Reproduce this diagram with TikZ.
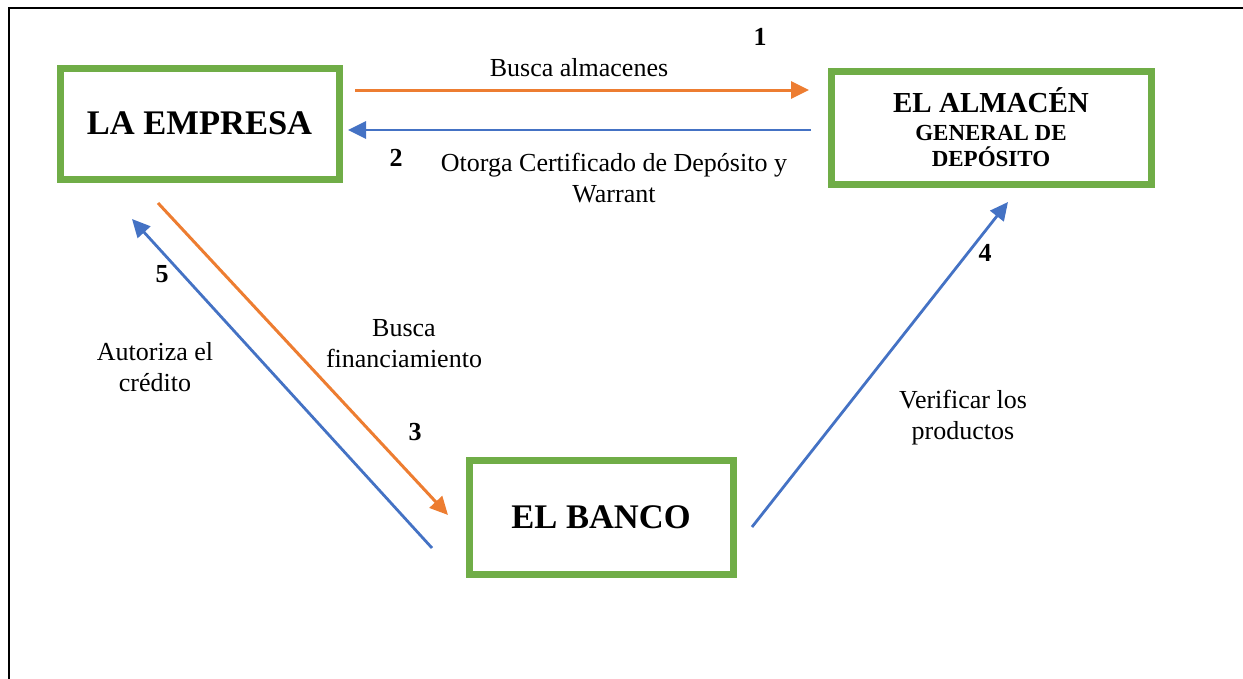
\documentclass[tikz,border=0pt]{standalone}
\usepackage{fontspec}
\setmainfont{Liberation Serif}
\usetikzlibrary{arrows.meta}
\definecolor{wgreen}{HTML}{70AD47}
\definecolor{worange}{HTML}{ED7D31}
\definecolor{wblue}{HTML}{4472C4}
\begin{document}
\begin{tikzpicture}[x=1pt,y=-1pt,
  box/.style={draw=wgreen, line width=7pt, inner sep=0pt, align=center,
    font=\bfseries\fontsize{34.5}{40}\selectfont},
  lbl/.style={font=\fontsize{26}{31}\selectfont, align=center, inner sep=0pt},
  num/.style={font=\bfseries\fontsize{26}{30}\selectfont, inner sep=0pt},
  oarrow/.style={draw=worange, line width=3pt, -{Triangle[length=18pt,width=17pt]}},
  barrow/.style={draw=wblue, line width=2.8pt, -{Triangle[length=18pt,width=17pt]}}]
\useasboundingbox (0,0) rectangle (1243,678);
\draw[line width=2.8pt] (1243,8) -- (9,8) -- (9,690);
% boxes
\node[box, minimum width=279pt, minimum height=111pt] (emp) at (199.5,123.5) {LA EMPRESA};
\node[box, minimum width=320pt, minimum height=113pt,
  font=\bfseries\fontsize{23}{26}\selectfont] (alm) at (991,127.5)
  {{\fontsize{29}{30}\selectfont EL ALMACÉN}\\[2pt]GENERAL DE\\DEPÓSITO};
\node[box, minimum width=264pt, minimum height=114pt] (ban) at (601,517) {EL BANCO};
% arrow end points
\coordinate (a1s) at (355,90);  \coordinate (a1e) at (809,90);
\coordinate (a2s) at (811,130); \coordinate (a2e) at (348,130);
\coordinate (a3s) at (158,203); \coordinate (a3e) at (448,515);
\coordinate (a5s) at (432,548); \coordinate (a5e) at (132,219);
\coordinate (a4s) at (752,527); \coordinate (a4e) at (1008,202);
\draw[oarrow] (a1s) -- (a1e);
\draw[barrow] (a2s) -- (a2e);
\draw[oarrow] (a3s) -- (a3e);
\draw[barrow] (a5s) -- (a5e);
\draw[barrow] (a4s) -- (a4e);
% labels
\node[num] (n1) at (760,37) {1};
\node[lbl] (l1) at (579,68) {Busca almacenes};
\node[num] (n2) at (396,158) {2};
\node[lbl] (l2) at (614,178) {Otorga Certificado de Depósito y\\Warrant};
\node[num] (n5) at (162,274) {5};
\node[lbl] (l5) at (155,367) {Autoriza el\\crédito};
\node[lbl] (l3) at (404,344) {Busca\\financiamiento};
\node[num] (n3) at (415,432) {3};
\node[num] (n4) at (985,253) {4};
\node[lbl] (l4) at (963,418) {Verificar los\\productos};
\end{tikzpicture}
\end{document}
